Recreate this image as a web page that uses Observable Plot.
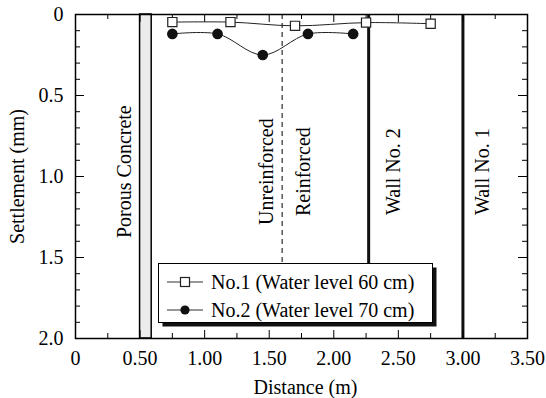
<!DOCTYPE html>
<html><head><meta charset="utf-8">
<script src="https://cdn.jsdelivr.net/npm/d3@7"></script>
<script src="https://cdn.jsdelivr.net/npm/@observablehq/plot@0.6"></script>
<style>
body{margin:0;background:#fff;font-family:'Liberation Serif', serif;}
#wrap{position:relative;width:546px;height:398px;}
#wrap svg, #wrap svg text{font-family:'Liberation Serif', serif !important;}
#legend{position:absolute;left:158px;top:263px;}
</style></head><body><div id="wrap"></div>
<script>
// ---- data ----
const series1X = [0.75, 1.2, 1.7, 2.25, 2.75];
const series1Y = [0.047, 0.047, 0.07, 0.05, 0.057];
const series2X = [0.75, 1.1, 1.45, 1.8, 2.15];
const series2Y = [0.12, 0.12, 0.25, 0.12, 0.12];
const seriesNames = ["No.1 (Water level 60 cm)", "No.2 (Water level 70 cm)"];
const xTicks = [0, 0.5, 1, 1.5, 2, 2.5, 3, 3.5];
const xTickLabels = ["0", "0.50", "1.00", "1.50", "2.00", "2.50", "3.00", "3.50"];
const xMinorTicks = [0.25, 0.75, 1.25, 1.75, 2.25, 2.75, 3.25];
const yTicks = [0, 0.5, 1, 1.5, 2];
const yTickLabels = ["0", "0.5", "1.0", "1.5", "2.0"];
const yMinorTicks = [0.1, 0.2, 0.3, 0.4, 0.6, 0.7, 0.8, 0.9, 1.1, 1.2, 1.3, 1.4, 1.6, 1.7, 1.8, 1.9];
const porousConcreteX = [0.5, 0.59];
const dividerX = [1.6];
const wall2X = [2.27];
const wall1X = [3.0];
const annotations = ["Porous Concrete", "Unreinforced", "Reinforced", "Wall No. 2", "Wall No. 1"];
const annotationX = [0.38, 1.48, 1.77, 2.465, 3.155];
const annotationY = 0.97;

// ---- build ----
const s1 = series1X.map((x, i) => ({x, y: series1Y[i]}));
const s2 = series2X.map((x, i) => ({x, y: series2Y[i]}));
const ann = annotations.map((t, i) => ({t, x: annotationX[i]}));
const W = 546, H = 398, mL = 75, mR = 19, mT = 14, mB = 60;
const innerH = H - mT - mB;
const font = 20;
const FF = "'Liberation Serif', serif";

const chart = Plot.plot({
  width: W, height: H,
  marginLeft: mL, marginRight: mR, marginTop: mT, marginBottom: mB,
  style: {fontFamily: FF, fontSize: font + "px", color: "black", background: "white"},
  x: {domain: [0, 3.5]},
  y: {domain: [0, 2], reverse: true},
  marks: [
    Plot.rect([porousConcreteX], {x1: d => d[0], x2: d => d[1], y1: d => 0, y2: d => 2, fill: "#ececec", stroke: "black", strokeWidth: 1.5}),
    Plot.ruleX(dividerX, {x: d => d, y1: d => 0, y2: d => 1.6, stroke: "black", strokeWidth: 1, strokeDasharray: "5,4"}),
    Plot.ruleX(wall2X, {x: d => d, y1: d => 0, y2: d => 1.6, stroke: "#111", strokeWidth: 3}),
    Plot.ruleX(wall1X, {x: d => d, y1: d => 0, y2: d => 2, stroke: "#111", strokeWidth: 3}),
    Plot.text(ann, {x: "x", y: () => annotationY, text: "t", rotate: -90, textAnchor: "middle", lineAnchor: "middle", fill: "black", fontSize: font, fontFamily: FF}),
    // ticks (inward)
    Plot.ruleX(xTicks, {x: d => d, insetTop: innerH - 8, stroke: "black"}),
    Plot.ruleX(xTicks, {x: d => d, insetBottom: innerH - 8, stroke: "black"}),
    Plot.ruleX(xMinorTicks, {x: d => d, insetTop: innerH - 5, stroke: "black"}),
    Plot.ruleX(xMinorTicks, {x: d => d, insetBottom: innerH - 5, stroke: "black"}),
    Plot.ruleY(yTicks, {y: d => d, insetRight: W - mL - mR - 9, stroke: "black"}),
    Plot.ruleY(yTicks, {y: d => d, insetLeft: W - mL - mR - 9, stroke: "black"}),
    Plot.ruleY(yMinorTicks, {y: d => d, insetRight: W - mL - mR - 5, stroke: "black"}),
    Plot.ruleY(yMinorTicks, {y: d => d, insetLeft: W - mL - mR - 5, stroke: "black"}),
    // series
    Plot.line(s1, {x: "x", y: "y", curve: "catmull-rom", stroke: "#222", strokeWidth: 1}),
    Plot.dot(s1, {x: "x", y: "y", symbol: "square", r: 5.2, fill: "white", stroke: "#222", strokeWidth: 1.2}),
    Plot.line(s2, {x: "x", y: "y", curve: "catmull-rom", stroke: "#222", strokeWidth: 1}),
    Plot.dot(s2, {x: "x", y: "y", r: 4.6, fill: "#111", stroke: "#111"}),
    // axes
    Plot.axisX({ticks: xTicks, tickFormat: d => xTickLabels[xTicks.indexOf(d)], tickSize: 0, tickPadding: 12, label: null, fontSize: font, fontFamily: FF}),
    Plot.axisY({ticks: yTicks, tickFormat: d => yTickLabels[yTicks.indexOf(d)], tickSize: 0, tickPadding: 12, label: null, fontSize: font, fontFamily: FF}),
    Plot.text(["Settlement (mm)"], {frameAnchor: "left", dx: -58, rotate: -90, text: d => d, textAnchor: "middle", lineAnchor: "middle", fill: "black", fontSize: font, fontFamily: FF}),
    Plot.text(["Distance (m)"], {frameAnchor: "bottom", dx: 4, dy: 49, text: d => d, textAnchor: "middle", lineAnchor: "middle", fill: "black", fontSize: font, fontFamily: FF}),
    Plot.frame({stroke: "black", strokeWidth: 1.5})
  ]
});
const wrap = document.getElementById("wrap");
wrap.appendChild(chart);

// ---- legend (inside plot area) ----
const ns = "http://www.w3.org/2000/svg";
const lg = document.createElementNS(ns, "svg");
lg.setAttribute("id", "legend");
lg.setAttribute("width", 282);
lg.setAttribute("height", 68);
const el = (tag, attrs) => { const e = document.createElementNS(ns, tag); for (const k in attrs) e.setAttribute(k, attrs[k]); lg.appendChild(e); return e; };
el("rect", {x: 4.5, y: 4.5, width: 274, height: 59, fill: "#111"});
el("rect", {x: 0.5, y: 0.5, width: 274, height: 59, fill: "white", stroke: "black", "stroke-width": 1});
const rows = [19, 47];
seriesNames.forEach((name, i) => {
  const y = rows[i];
  el("line", {x1: 9, x2: 45, y1: y, y2: y, stroke: "#333", "stroke-width": 1.2});
  if (i === 0) el("rect", {x: 22.5, y: y - 4.5, width: 9, height: 9, fill: "white", stroke: "#222", "stroke-width": 1.2});
  else el("circle", {cx: 27, cy: y, r: 4.6, fill: "#111"});
  const t = el("text", {x: 53, y: y, "dominant-baseline": "central", "font-size": font, fill: "black"});
  t.textContent = name;
});
wrap.appendChild(lg);
</script></body></html>
